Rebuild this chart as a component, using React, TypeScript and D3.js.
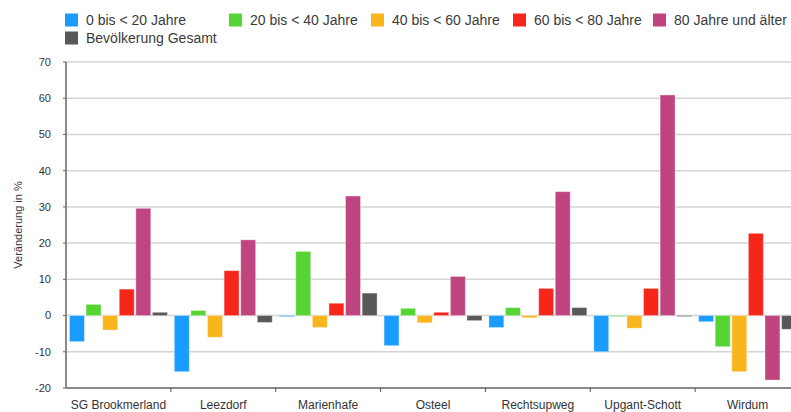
import React from "react";
import * as d3 from "d3";

// data
const categories = [
	"SG Brookmerland",
	"Leezdorf",
	"Marienhafe",
	"Osteel",
	"Rechtsupweg",
	"Upgant-Schott",
	"Wirdum",
];
const seriesNames = [
	"0 bis < 20 Jahre",
	"20 bis < 40 Jahre",
	"40 bis < 60 Jahre",
	"60 bis < 80 Jahre",
	"80 Jahre und älter",
	"Bevölkerung Gesamt",
];
const seriesColors = ["#1a9bff", "#55d433", "#f9b51c", "#f6261a", "#c0447f", "#585858"];

const age0to20 = [-7.2, -15.5, -0.3, -8.3, -3.3, -10.0, -1.7];
const age20to40 = [3.1, 1.4, 17.7, 2.0, 2.2, -0.2, -8.6];
const age40to60 = [-4.0, -6.0, -3.3, -2.0, -0.6, -3.5, -15.5];
const age60to80 = [7.3, 12.4, 3.4, 0.9, 7.5, 7.5, 22.7];
const age80plus = [29.6, 20.9, 33.0, 10.8, 34.2, 60.9, -17.8];
const total = [0.9, -1.9, 6.2, -1.4, 2.2, -0.2, -3.8];
const seriesValues = [age0to20, age20to40, age40to60, age60to80, age80plus, total];

const yTicks = [-20, -10, 0, 10, 20, 30, 40, 50, 60, 70];

const font = "'Liberation Sans', Arial, Helvetica, sans-serif";

export default function App() {
	const width = 791;
	const height = 412;
	const left = 66;
	const right = 800; // last group runs past the window edge
	const top = 62;
	const bottom = 388;

	const xScale = d3.scaleBand().domain(categories).range([left, right]);
	const inner = d3
		.scaleBand()
		.domain(seriesNames)
		.range([0, xScale.bandwidth()])
		.paddingInner(0.1)
		.paddingOuter(0.21);
	const yScale = d3.scaleLinear().domain([-20, 70]).range([bottom, top]);

	// legend layout: first row five items, second row one item
	const legendX = [65, 229, 371, 513, 653, 65];
	const legendY = [20, 20, 20, 20, 20, 38];

	return (
		<div style={{ position: "absolute", left: 0, top: 0 }}>
			<svg width={width} height={height} style={{ display: "block", fontFamily: font }}>
				<rect x={0} y={0} width={width} height={height} fill="#fff" />

				{/* legend */}
				{seriesNames.map((name, i) => (
					<g key={name} transform={`translate(${legendX[i]},${legendY[i]})`}>
						<rect x={0} y={-6.5} width={13} height={13} fill={seriesColors[i]} />
						<text x={21} y={0} dy="0.35em" fontSize={14} fill="#3a3a3a">
							{name}
						</text>
					</g>
				))}

				{/* grid */}
				{yTicks.map((t) => (
					<line
						key={t}
						x1={left}
						x2={width}
						y1={yScale(t)}
						y2={yScale(t)}
						stroke="#d4d4d4"
						strokeWidth={1.5}
					/>
				))}

				{/* bars */}
				{categories.map((cat, ci) => (
					<g key={cat} transform={`translate(${xScale(cat)},0)`}>
						{seriesNames.map((s, si) => {
							const v = seriesValues[si][ci];
							const y0 = yScale(Math.max(0, v));
							const y1 = yScale(Math.min(0, v));
							return (
								<rect
									key={s}
									x={inner(s)}
									y={y0}
									width={inner.bandwidth()}
									height={Math.max(1, y1 - y0)}
									fill={seriesColors[si]}
									stroke="#ffffff"
									strokeOpacity={0.35}
									strokeWidth={1}
								/>
							);
						})}
					</g>
				))}

				{/* y axis */}
				<line x1={left} x2={left} y1={top} y2={bottom} stroke="#8a8a8a" strokeWidth={2} />
				{yTicks.map((t) => (
					<g key={t}>
						<line x1={left - 3} x2={left} y1={yScale(t)} y2={yScale(t)} stroke="#666" />
						<text
							x={left - 15}
							y={yScale(t)}
							dy="0.35em"
							textAnchor="end"
							fontSize={11}
							fill="#333"
						>
							{t}
						</text>
					</g>
				))}
				<text
					transform={`translate(18,${(top + bottom) / 2}) rotate(-90)`}
					textAnchor="middle"
					dy="0.35em"
					fontSize={11}
					fill="#333"
				>
					Veränderung in %
				</text>

				{/* x axis */}
				<line x1={left} x2={width} y1={bottom} y2={bottom} stroke="#8a8a8a" strokeWidth={2} />
				{categories.map((cat, i) =>
					i > 0 ? (
						<line
							key={cat}
							x1={xScale(cat)}
							x2={xScale(cat)}
							y1={bottom}
							y2={bottom + 4}
							stroke="#555"
						/>
					) : null
				)}
				{categories.map((cat) => (
					<text
						key={cat}
						x={(xScale(cat) ?? 0) + xScale.bandwidth() / 2}
						y={bottom + 17}
						dy="0.35em"
						textAnchor="middle"
						fontSize={12}
						fill="#333"
					>
						{cat}
					</text>
				))}
			</svg>
		</div>
	);
}
